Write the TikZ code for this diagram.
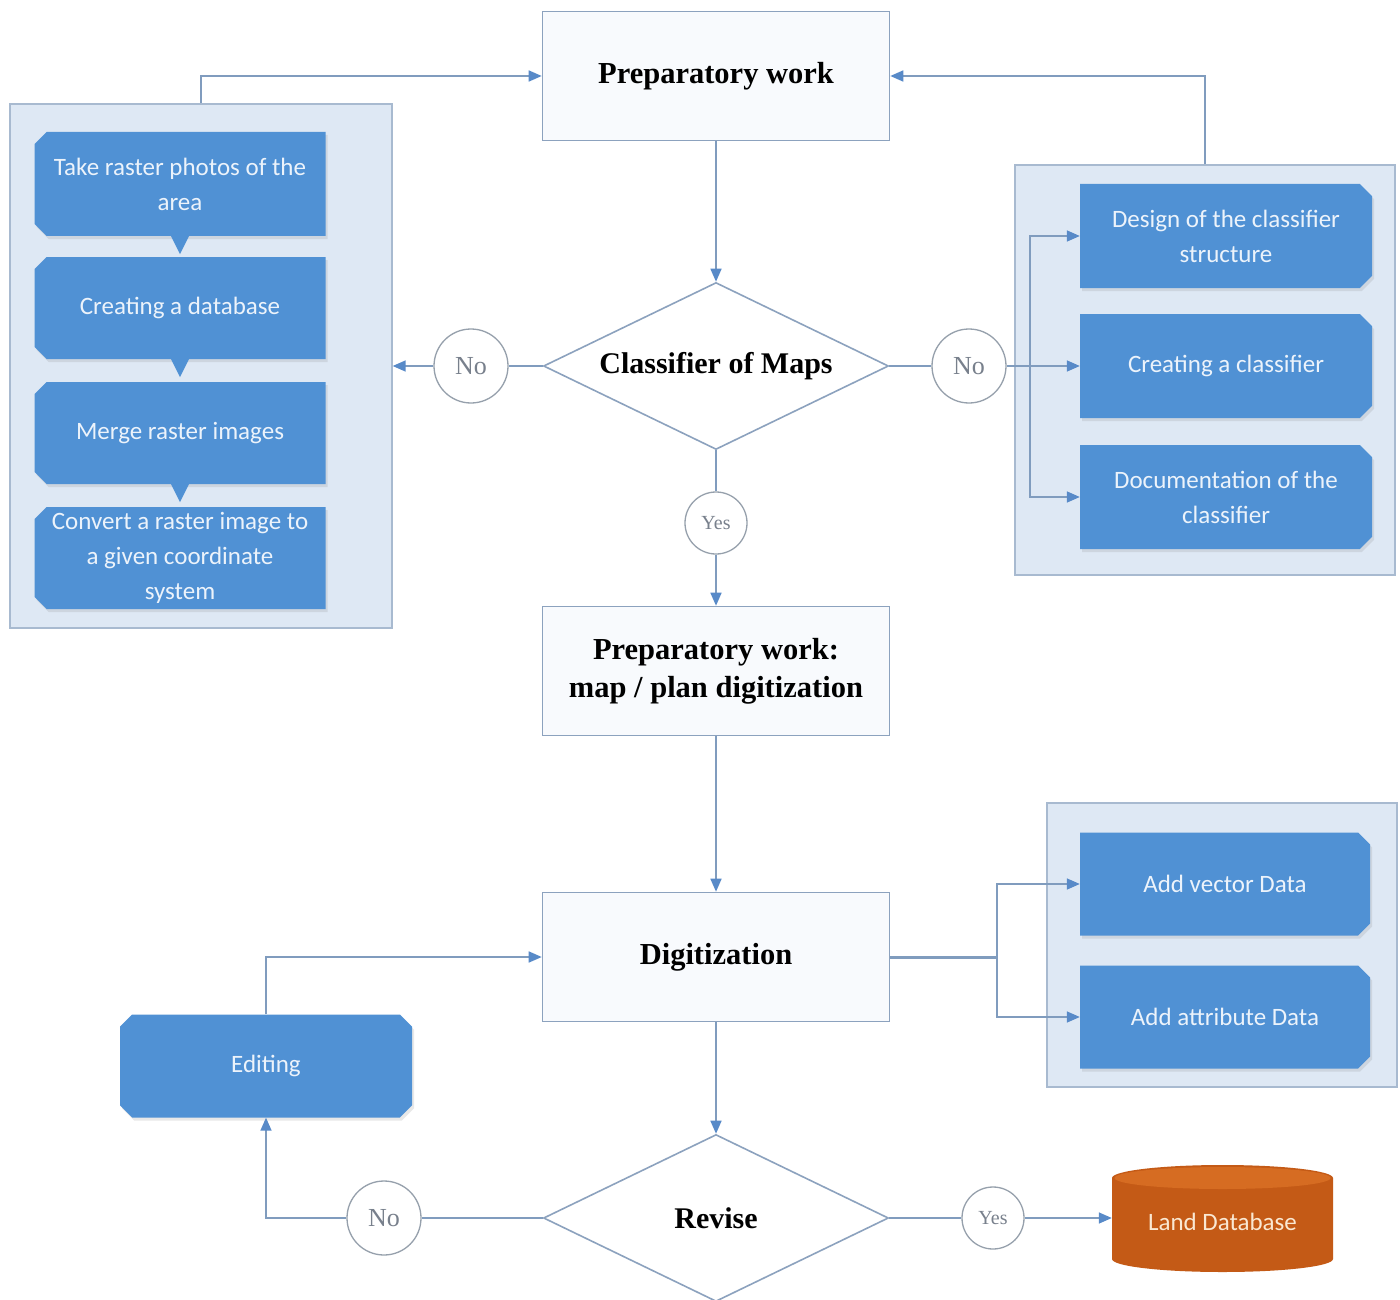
\documentclass[tikz,border=0pt]{standalone}
\usepackage{fontspec}
\setmainfont{Liberation Serif}
\newfontfamily\boxfont{Carlito}
\usetikzlibrary{shapes.geometric,shapes.misc,arrows.meta,shadows}

\definecolor{boxblue}{RGB}{80,145,212}
\definecolor{grpfill}{RGB}{222,232,244}
\definecolor{grpline}{RGB}{168,186,208}
\definecolor{connc}{RGB}{128,156,190}
\definecolor{tipblue}{RGB}{88,138,200}
\definecolor{mainline}{RGB}{140,162,190}
\definecolor{mainfill}{RGB}{248,250,253}
\definecolor{circline}{RGB}{150,160,172}
\definecolor{circtext}{RGB}{120,128,140}
\definecolor{dbfill}{RGB}{196,90,22}
\definecolor{dbtop}{RGB}{214,108,34}
\definecolor{dbtext}{RGB}{250,232,210}
\definecolor{boxtext}{RGB}{236,243,251}

\begin{document}
\begin{tikzpicture}[x=1pt,y=-1pt,
  conn/.style={draw=connc, line width=1.6pt},
  arr/.style={conn, -{Triangle[length=13pt,width=11pt,color=tipblue]}},
  mainbox/.style={rectangle, draw=mainline, line width=1.6pt, fill=mainfill,
    minimum width=347pt, minimum height=129pt, inner sep=0pt, align=center,
    font=\bfseries\fontsize{30.5}{38}\selectfont},
  decis/.style={diamond, draw=mainline, line width=1.6pt, fill=white,
    minimum width=345pt, minimum height=167pt, aspect=2.07, inner sep=0pt,
    font=\bfseries\fontsize{30}{36}\selectfont},
  ans/.style={circle, draw=circline, line width=1.3pt, fill=white, inner sep=0pt,
    text=circtext},
  grp/.style={rectangle, draw=grpline, line width=1.4pt, fill=grpfill, inner sep=0pt},
  bluebox/.style={chamfered rectangle, chamfered rectangle xsep=9pt,
    fill=boxblue, text=boxtext, inner sep=0pt, align=center,
    drop shadow={shadow xshift=2pt, shadow yshift=-3pt, opacity=0.18},
    font=\boxfont\fontsize{25}{35}\selectfont},
  leftcut/.style={chamfered rectangle corners={north west, south west}},
  rightcut/.style={chamfered rectangle corners={north east, south east}},
]
\useasboundingbox (0,0) rectangle (1400,1300);
\fill[white] (0,0) rectangle (1400,1300);

% group panels
\node[grp, minimum width=382pt, minimum height=524pt] (lg) at (201,366) {};
\node[grp, minimum width=380pt, minimum height=410pt] (rg) at (1205,370) {};
\node[grp, minimum width=350pt, minimum height=284pt] (dg) at (1222,945) {};

% left group boxes
\node[bluebox, leftcut, minimum width=291pt, minimum height=104pt] (l1) at (180,184) {Take raster photos of the\\area};
\node[bluebox, leftcut, minimum width=291pt, minimum height=102pt] (l2) at (180,308) {Creating a database};
\node[bluebox, leftcut, minimum width=291pt, minimum height=102pt] (l3) at (180,433) {Merge raster images};
\node[bluebox, leftcut, minimum width=291pt, minimum height=102pt] (l4) at (180,558) {Convert a raster image to\\a given coordinate\\system};
\foreach \b in {l1,l2,l3}
  \fill[boxblue] ([xshift=-9pt]\b.south) -- ([xshift=9pt]\b.south) -- ([yshift=-18pt]\b.south) -- cycle;

% right group boxes
\node[bluebox, rightcut, minimum width=292pt, minimum height=104pt] (r1) at (1226,236) {Design of the classifier\\structure};
\node[bluebox, rightcut, minimum width=292pt, minimum height=104pt] (r2) at (1226,366) {Creating a classifier};
\node[bluebox, rightcut, minimum width=292pt, minimum height=104pt] (r3) at (1226,497) {Documentation of the\\classifier};

% digitization group boxes
\node[bluebox, rightcut, minimum width=290pt, minimum height=103pt] (d1) at (1225,884) {Add vector Data};
\node[bluebox, rightcut, minimum width=290pt, minimum height=103pt] (d2) at (1225,1017) {Add attribute Data};

% editing
\node[bluebox, minimum width=292pt, minimum height=103pt] (ed) at (266,1066) {Editing};

% main flow
\node[mainbox] (prep) at (716,76) {Preparatory work};
\node[decis] (cls) at (716,366) {Classifier of Maps};
\node[ans, minimum size=74pt, font=\fontsize{26}{30}\selectfont] (nol) at (471,366) {No};
\node[ans, minimum size=74pt, font=\fontsize{26}{30}\selectfont] (nor) at (969,366) {No};
\node[ans, minimum size=62pt, font=\fontsize{20}{24}\selectfont] (yes1) at (716,523) {Yes};
\node[mainbox] (prep2) at (716,671) {Preparatory work:\\map / plan digitization};
\node[mainbox] (dig) at (716,957) {Digitization};
\node[decis] (rev) at (716,1218) {Revise};
\node[ans, minimum size=74pt, font=\fontsize{26}{30}\selectfont] (no2) at (384,1218) {No};
\node[ans, minimum size=62pt, font=\fontsize{20}{24}\selectfont] (yes2) at (993,1218) {Yes};

% database cylinder
\fill[dbfill] (1112,1178) -- (1112,1259) arc[start angle=180, end angle=360, x radius=110.5pt, y radius=13pt]
  -- (1333,1178) arc[start angle=0, end angle=180, x radius=110.5pt, y radius=13pt] -- cycle;
\fill[dbtop] (1222.5,1178) ellipse[x radius=108pt, y radius=11pt];
\node[rectangle, minimum width=221pt, minimum height=107pt, inner sep=0pt, text=dbtext,
  font=\boxfont\fontsize{25}{30}\selectfont] (db) at (1222.5,1222) {Land Database};

% branch points
\coordinate (br) at (1030,366);
\coordinate (br2) at (997,957);

% connectors
\draw[arr] (prep.south) -- (cls.north);
\draw[conn] (cls.west) -- (nol.east);
\draw[arr] (nol.west) -- (lg.east);
\draw[conn] (cls.east) -- (nor.west);
\draw[conn] (nor.east) -- (br);
\draw[arr] (br) |- (r1.west);
\draw[arr] (br) -- (r2.west);
\draw[arr] (br) |- (r3.west);
\draw[arr] (lg.north) |- (prep.west);
\draw[arr] (rg.north) |- (prep.east);
\draw[conn] (cls.south) -- (yes1.north);
\draw[arr] (yes1.south) -- (prep2.north);
\draw[arr] (prep2.south) -- (dig.north);
\draw[conn, line width=3pt] (dig.east) -- (br2);
\draw[arr] (br2) |- (d1.west);
\draw[arr] (br2) |- (d2.west);
\draw[arr] (dig.south) -- (rev.north);
\draw[arr] (ed.north) |- (dig.west);
\draw[conn] (rev.west) -- (no2.east);
\draw[arr] (no2.west) -| (ed.south);
\draw[conn] (rev.east) -- (yes2.west);
\draw[arr] (yes2.east) -- (yes2.east -| db.west);
\end{tikzpicture}
\end{document}
